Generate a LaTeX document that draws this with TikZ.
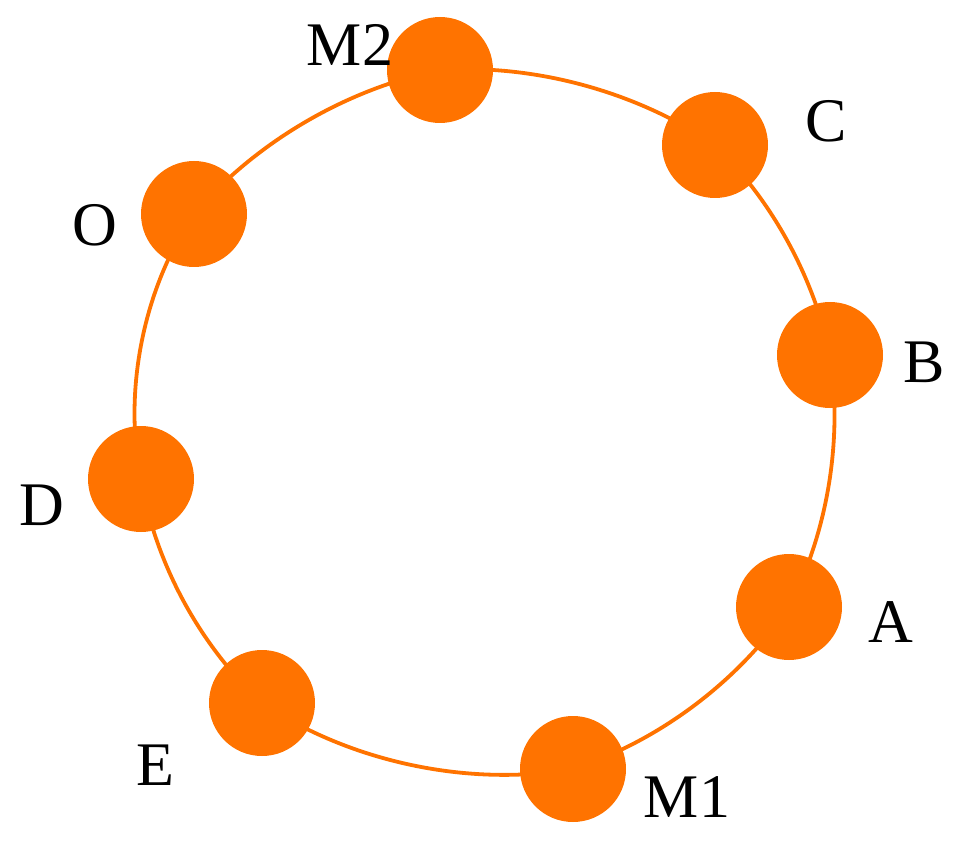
\documentclass[tikz,border=0pt]{standalone}
\usepackage{fontspec}
\setmainfont{Liberation Serif}
\usetikzlibrary{backgrounds}
\definecolor{ringorange}{RGB}{255,115,0}
\begin{document}
\begin{tikzpicture}[x=0.5pt,y=-0.5pt,
  station/.style={circle,fill=ringorange,draw=none,minimum size=53pt,inner sep=0pt},
  lbl/.style={font=\fontsize{31}{31}\selectfont,text=black,inner sep=0pt},
  ring/.style={draw=ringorange,line width=1.9pt,looseness=0.85}]
\useasboundingbox (0,0) rectangle (960,856);
% stations
\node[station] (M2) at (440,70) {};
\node[station] (C) at (715,145) {};
\node[station] (B) at (830,355) {};
\node[station] (A) at (789,607) {};
\node[station] (M1) at (573,769) {};
\node[station] (E) at (262,703) {};
\node[station] (D) at (141,479) {};
\node[station] (O) at (194,214) {};
% ring
\begin{scope}[on background layer]
\path[ring] (M2.center) to[bend left=19] (C.center);
\path[ring] (C.center) to[bend left=17] (B.center);
\path[ring] (B.center) to[bend left=18] (A.center);
\path[ring] (A.center) to[bend left=19] (M1.center);
\path[ring] (M1.center) to[bend left=22] (E.center);
\path[ring] (E.center) to[bend left=19] (D.center);
\path[ring] (D.center) to[bend left=23] (O.center);
\path[ring] (O.center) to[bend left=19] (M2.center);
\end{scope}
% labels
\node[lbl] (lM2) at (350,45) {M2};
\node[lbl] (lC) at (826,121) {C};
\node[lbl] (lB) at (924,362) {B};
\node[lbl] (lA) at (891,622) {A};
\node[lbl] (lM1) at (687,797) {M1};
\node[lbl] (lE) at (155,765) {E};
\node[lbl] (lD) at (42,505) {D};
\node[lbl] (lO) at (95,225) {O};
\end{tikzpicture}
\end{document}
